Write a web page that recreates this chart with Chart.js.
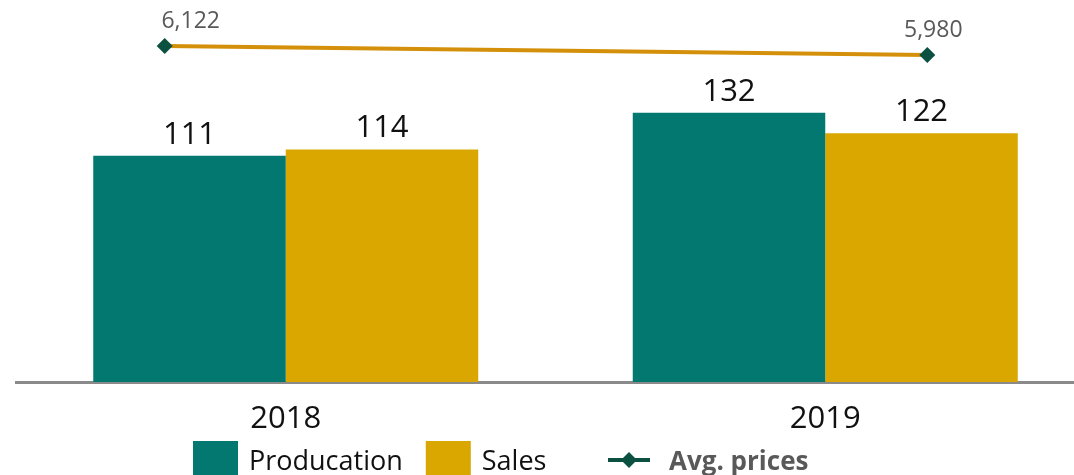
<!DOCTYPE html>
<html>
<head>
<meta charset="utf-8">
<title>Production, sales and average prices</title>
<script src="https://cdn.jsdelivr.net/npm/chart.js@4.4.1/dist/chart.umd.min.js"></script>
<style>
  html, body { margin: 0; padding: 0; background: #fff; overflow: hidden; }
  #wrap { position: relative; width: 1100px; height: 475px; }
  #wrap canvas { position: absolute; left: 0; top: 0; }
  #price-chart { pointer-events: none; }
</style>
</head>
<body>
<div id="wrap">
  <canvas id="prod-chart" width="1100" height="475"></canvas>
  <canvas id="price-chart" width="1100" height="475"></canvas>
</div>
<script>
const years = [2018, 2019];
const production = [111, 132];
const sales = [114, 122];
const avgPrices = [6122, 5980];
const priceLabel = 'Avg. prices';

const TEAL = '#037870';
const GOLD = '#d9a700';
const LINE_GOLD = '#d4900a';
const DARK_GREEN = '#0b5040';

const PAD = { top: 15, left: 16, right: 5 };

// numbers above the bars
const barLabels = {
    id: 'barLabels',
    afterDatasetsDraw(chart) {
        const ctx = chart.ctx;
        ctx.save();
        ctx.textAlign = 'center';
        ctx.textBaseline = 'middle';
        ctx.font = '31px "Open Sans"';
        ctx.fillStyle = '#111';
        chart.data.datasets.forEach((ds, i) => {
            chart.getDatasetMeta(i).data.forEach((el, j) => {
                ctx.fillText(ds.data[j], el.x, el.y - 21);
            });
        });
        ctx.restore();
    }
};

// price numbers over the diamonds
const priceLabels = {
    id: 'priceLabels',
    afterDatasetsDraw(chart) {
        const ctx = chart.ctx;
        const shift = [26, 6];
        ctx.save();
        ctx.textAlign = 'center';
        ctx.textBaseline = 'middle';
        ctx.font = '23px "Open Sans"';
        ctx.fillStyle = '#595959';
        chart.getDatasetMeta(0).data.forEach((el, j) => {
            ctx.fillText(avgPrices[j].toLocaleString('en-US'), el.x + shift[j], el.y - 24);
        });
        ctx.restore();
    }
};

// legend along the bottom edge
const bottomLegend = {
    id: 'bottomLegend',
    afterDraw(chart) {
        const ctx = chart.ctx;
        const baseY = 470;
        let x = 193;
        ctx.save();
        ctx.textBaseline = 'alphabetic';
        ctx.textAlign = 'left';
        chart.data.datasets.forEach(ds => {
            ctx.fillStyle = ds.backgroundColor;
            ctx.fillRect(x, 441, 45, 40);
            x += 45 + 11;
            ctx.font = '27px "Open Sans"';
            ctx.fillStyle = '#111';
            ctx.fillText(ds.label, x, baseY);
            x += ctx.measureText(ds.label).width + 23;
        });
        // price series: short stroke with a diamond
        x = 608;
        const cy = 460;
        ctx.strokeStyle = DARK_GREEN;
        ctx.lineWidth = 4;
        ctx.beginPath();
        ctx.moveTo(x, cy);
        ctx.lineTo(x + 42, cy);
        ctx.stroke();
        ctx.fillStyle = DARK_GREEN;
        ctx.beginPath();
        ctx.moveTo(x + 21, cy - 8);
        ctx.lineTo(x + 29, cy);
        ctx.lineTo(x + 21, cy + 8);
        ctx.lineTo(x + 13, cy);
        ctx.closePath();
        ctx.fill();
        ctx.font = 'bold 26px "Open Sans"';
        ctx.fillStyle = '#595959';
        ctx.fillText(priceLabel, 669, baseY);
        ctx.restore();
    }
};

// volumes
new Chart(document.getElementById('prod-chart'), {
    type: 'bar',
    data: {
        labels: years.map(String),
        datasets: [
            { label: 'Producation', data: production, backgroundColor: TEAL },
            { label: 'Sales', data: sales, backgroundColor: GOLD }
        ]
    },
    options: {
        responsive: false,
        animation: false,
        layout: { padding: { top: PAD.top, left: PAD.left, right: PAD.right, bottom: 0 } },
        categoryPercentage: 0.7136,
        barPercentage: 1.0,
        scales: {
            x: {
                grid: { display: false },
                border: { display: true, color: '#8a8a8a', width: 3 },
                ticks: {
                    color: '#111',
                    font: { family: '"Open Sans"', size: 31 },
                    padding: 11
                },
                afterFit(scale) { scale.height = 93; }
            },
            y: { display: false, min: 0, max: 180 }
        },
        plugins: {
            legend: { display: false },
            tooltip: { enabled: false }
        }
    },
    plugins: [barLabels, bottomLegend]
});

// average prices, drawn on top of the bars
new Chart(document.getElementById('price-chart'), {
    type: 'line',
    data: {
        datasets: [{
            label: priceLabel,
            data: years.map((yr, i) => ({ x: yr, y: avgPrices[i] })),
            borderColor: LINE_GOLD,
            borderWidth: 4,
            pointStyle: 'rectRot',
            pointRadius: 8,
            pointBackgroundColor: DARK_GREEN,
            pointBorderColor: DARK_GREEN,
            pointBorderWidth: 0
        }]
    },
    options: {
        responsive: false,
        animation: false,
        layout: { padding: { top: PAD.top, left: PAD.left, right: PAD.right, bottom: 93 } },
        scales: {
            x: { type: 'linear', display: false, min: 2017.805, max: 2019.216 },
            y: { display: false, min: 820, max: 6610 }
        },
        plugins: {
            legend: { display: false },
            tooltip: { enabled: false }
        }
    },
    plugins: [priceLabels]
});
</script>
</body>
</html>
